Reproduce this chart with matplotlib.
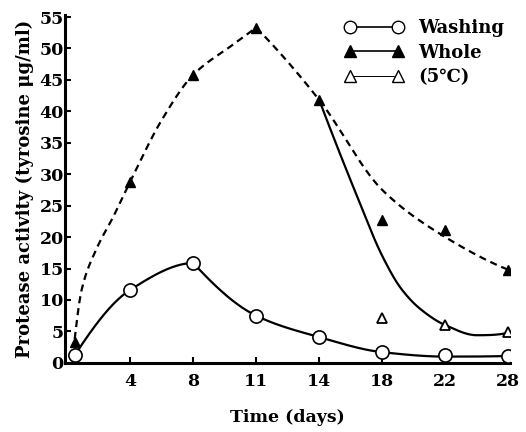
import numpy as np
import matplotlib
matplotlib.use("Agg")
import matplotlib.pyplot as plt
from matplotlib.lines import Line2D

plt.rcParams['font.family'] = ['DejaVu Serif', 'DejaVu Sans']
plt.rcParams['font.weight'] = 'bold'

# ---- data ----
days = [0, 4, 8, 11, 14, 18, 22, 28]
tick_days = [4, 8, 11, 14, 18, 22, 28]
washing = [1.2, 11.6, 15.9, 7.5, 4.1, 1.7, 1.2, 1.1]
whole = [3.3, 28.8, 45.8, 53.3, 41.8, 22.7, 21.1, 14.8]
cold_days = [18, 22, 28]
cold = [7.1, 6.0, 4.9]

# hand-drawn fitted curves (slot position, value), split at their peaks
whole_up_x = [0.12, 0.23, 0.46, 0.73, 1.0, 1.5, 2.0, 2.63, 3.0]
whole_up_y = [3.8, 11.6, 18.0, 23.2, 28.8, 38.6, 45.8, 50.6, 53.3]
whole_down_x = [3.0, 4.0, 5.0, 6.0, 7.0]
whole_down_y = [53.3, 41.8, 27.5, 20.0, 14.8]
wash_up_x = [0.12, 1.0, 2.0]
wash_up_y = [1.2, 11.6, 15.9]
wash_down_x = [2.0, 3.0, 4.0, 5.0, 6.0, 7.0]
wash_down_y = [15.9, 7.5, 4.1, 1.7, 1.0, 1.1]
cold_fit_x = [4.0, 4.6, 5.0, 5.3, 5.6, 6.0, 6.5, 7.0]
cold_fit_y = [41.8, 26.5, 17.0, 11.8, 8.6, 6.0, 4.4, 4.8]

# layout: map days to equally spaced slots
slot = {0: 0.12, 4: 1, 8: 2, 11: 3, 14: 4, 18: 5, 22: 6, 28: 7}


def pchip(xs, ys, n=40):
    x = np.asarray(xs, float)
    y = np.asarray(ys, float)
    h = np.diff(x)
    dl = np.diff(y) / h
    d = np.zeros_like(y)
    for k in range(1, len(x) - 1):
        if dl[k - 1] * dl[k] > 0:
            w1 = 2 * h[k] + h[k - 1]
            w2 = h[k] + 2 * h[k - 1]
            d[k] = (w1 + w2) / (w1 / dl[k - 1] + w2 / dl[k])

    def end(h0, h1, d0, d1):
        v = ((2 * h0 + h1) * d0 - h0 * d1) / (h0 + h1)
        if np.sign(v) != np.sign(d0):
            v = 0.0
        elif np.sign(d0) != np.sign(d1) and abs(v) > abs(3 * d0):
            v = 3 * d0
        return v

    if len(x) > 2:
        d[0] = end(h[0], h[1], dl[0], dl[1])
        d[-1] = end(h[-1], h[-2], dl[-1], dl[-2])
    else:
        d[0] = d[-1] = dl[0]
    ox, oy = [], []
    for i in range(len(x) - 1):
        t = np.linspace(0, 1, n, endpoint=False)
        hh = h[i]
        h00 = 2 * t**3 - 3 * t**2 + 1
        h10 = t**3 - 2 * t**2 + t
        h01 = -2 * t**3 + 3 * t**2
        h11 = t**3 - t**2
        ox.append(x[i] + t * hh)
        oy.append(h00 * y[i] + h10 * hh * d[i] + h01 * y[i + 1] + h11 * hh * d[i + 1])
    ox.append([x[-1]])
    oy.append([y[-1]])
    return np.concatenate(ox), np.concatenate(oy)


def joined(xa, ya, xb, yb):
    x1, y1 = pchip(xa, ya)
    x2, y2 = pchip(xb, yb)
    return np.concatenate([x1, x2[1:]]), np.concatenate([y1, y2[1:]])


fig = plt.figure(figsize=(5.26, 4.32), dpi=100)
ax = fig.add_axes([0.124, 0.16, 0.846, 0.805])

x_days = [slot[d] for d in days]
x_cold = [slot[d] for d in cold_days]

cx, cy = joined(whole_up_x, whole_up_y, whole_down_x, whole_down_y)
ax.plot(cx, cy, color='black', lw=1.6, ls=(0, (3.2, 2.2)), zorder=2)
cx, cy = joined(wash_up_x, wash_up_y, wash_down_x, wash_down_y)
ax.plot(cx, cy, color='black', lw=1.6, zorder=2)
cx, cy = pchip(cold_fit_x, cold_fit_y)
ax.plot(cx, cy, color='black', lw=1.6, zorder=2)

ax.plot(x_days, washing, ls='none', marker='o', ms=9.5, mfc='white', mec='black', mew=1.2, zorder=4)
ax.plot(x_days, whole, ls='none', marker='^', ms=7.5, mfc='black', mec='black', zorder=4)
ax.plot(x_cold, cold, ls='none', marker='^', ms=6.5, mfc='white', mec='black', mew=1.3, zorder=4)

ax.set_xlim(-0.03, 7.03)
ax.set_ylim(0, 55.3)
ax.set_xticks([slot[d] for d in tick_days])
ax.set_xticklabels([str(d) for d in tick_days])
ax.set_yticks(np.arange(0, 56, 5))
ax.tick_params(direction='in', length=4, width=1.5, labelsize=12.5)
ax.tick_params(axis='x', pad=7)
ax.tick_params(axis='y', pad=1)
for s in ['top', 'right']:
    ax.spines[s].set_visible(False)
for s in ['left', 'bottom']:
    ax.spines[s].set_linewidth(2.2)
for lab in ax.get_xticklabels() + ax.get_yticklabels():
    lab.set_fontweight('bold')

ax.set_xlabel('Time (days)', fontsize=12.5, fontweight='bold', labelpad=14)
ax.set_ylabel('Protease activity (tyrosine μg/ml)', fontsize=13, fontweight='bold', labelpad=4)

handles = [
    Line2D([], [], color='black', lw=1.2, marker='o', ms=9, mfc='white', mec='black'),
    Line2D([], [], color='black', lw=1.2, marker='^', ms=9, mfc='black', mec='black'),
    Line2D([], [], color='black', lw=0.7, marker='^', ms=9, mfc='white', mec='black'),
]
leg = ax.legend(handles, ['Washing', 'Whole', '(5℃)'], numpoints=2, frameon=False,
                loc='upper left', bbox_to_anchor=(0.591, 1.035), handlelength=3.27,
                handletextpad=0.8, labelspacing=0.35, prop={'weight': 'bold', 'size': 13})

fig.savefig('out.png', dpi=100)
